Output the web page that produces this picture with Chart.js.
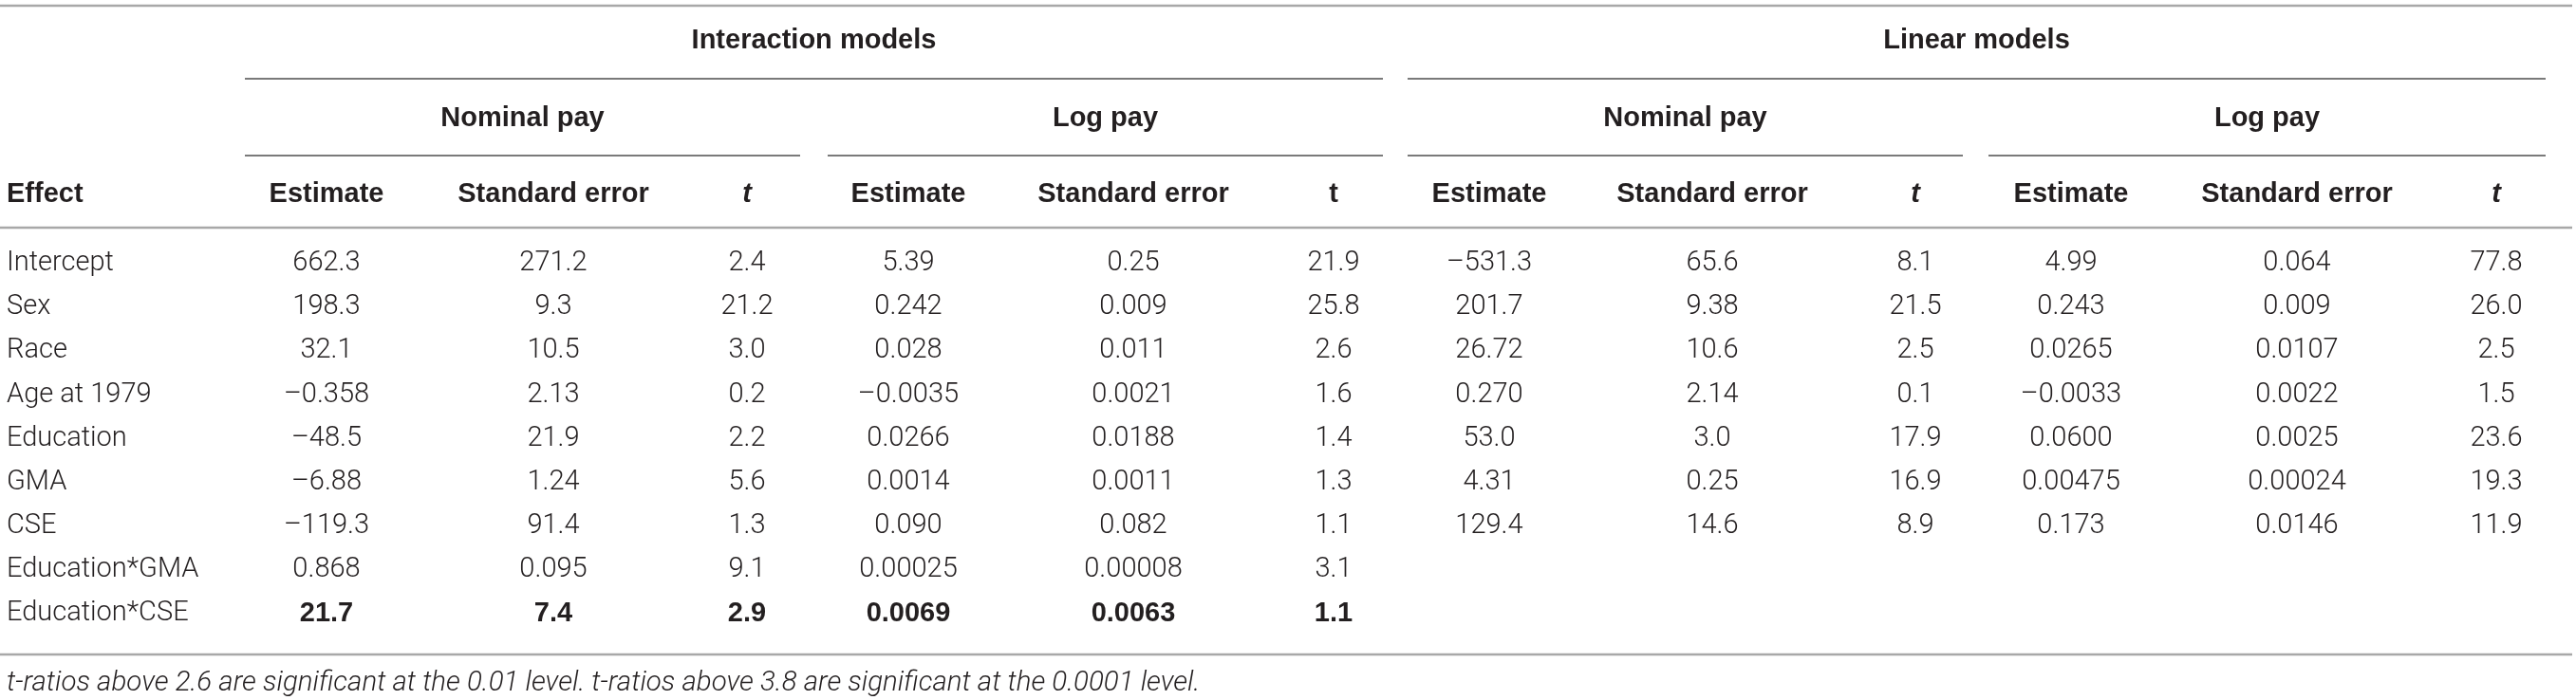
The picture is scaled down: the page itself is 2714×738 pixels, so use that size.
<!DOCTYPE html>
<html>
<head>
<meta charset="utf-8">
<script src="https://cdn.jsdelivr.net/npm/chart.js@4"></script>
<style>
  html, body { margin: 0; padding: 0; background: #fff; }
  #wrap { width: 2714px; height: 738px; }
</style>
</head>
<body>
<div id="wrap"><canvas id="table-chart" width="2714" height="738"></canvas></div>
<script>
// Valores da tabela
const effects = ['Intercept', 'Sex', 'Race', 'Age at 1979', 'Education', 'GMA', 'CSE', 'Education*GMA', 'Education*CSE'];

const intNomEst = ['662.3', '198.3', '32.1', '\u20130.358', '\u201348.5', '\u20136.88', '\u2013119.3', '0.868', '21.7'];
const intNomSE  = ['271.2', '9.3', '10.5', '2.13', '21.9', '1.24', '91.4', '0.095', '7.4'];
const intNomT   = ['2.4', '21.2', '3.0', '0.2', '2.2', '5.6', '1.3', '9.1', '2.9'];
const intLogEst = ['5.39', '0.242', '0.028', '\u20130.0035', '0.0266', '0.0014', '0.090', '0.00025', '0.0069'];
const intLogSE  = ['0.25', '0.009', '0.011', '0.0021', '0.0188', '0.0011', '0.082', '0.00008', '0.0063'];
const intLogT   = ['21.9', '25.8', '2.6', '1.6', '1.4', '1.3', '1.1', '3.1', '1.1'];

const linNomEst = ['\u2013531.3', '201.7', '26.72', '0.270', '53.0', '4.31', '129.4'];
const linNomSE  = ['65.6', '9.38', '10.6', '2.14', '3.0', '0.25', '14.6'];
const linNomT   = ['8.1', '21.5', '2.5', '0.1', '17.9', '16.9', '8.9'];
const linLogEst = ['4.99', '0.243', '0.0265', '\u20130.0033', '0.0600', '0.00475', '0.173'];
const linLogSE  = ['0.064', '0.009', '0.0107', '0.0022', '0.0025', '0.00024', '0.0146'];
const linLogT   = ['77.8', '26.0', '2.5', '1.5', '23.6', '19.3', '11.9'];

const groupTitles = ['Interaction models', 'Linear models'];
const subTitles = ['Nominal pay', 'Log pay', 'Nominal pay', 'Log pay'];
const colTitles = ['Estimate', 'Standard error', 't', 'Estimate', 'Standard error', 't',
                   'Estimate', 'Standard error', 't', 'Estimate', 'Standard error', 't'];
const italicT = [false, false, true, false, false, false, false, false, true, false, false, true];
const boldRow = 'Education*CSE';
const footnote = 't-ratios above 2.6 are significant at the 0.01 level. t-ratios above 3.8 are significant at the 0.0001 level.';

// Layout (pixels do canvas, usados via escalas)
const W = 2714, H = 738;
const colX = [344, 583, 787, 957, 1194, 1405, 1569, 1804, 2018, 2182, 2420, 2630];
const subSpan = [[258, 843], [872, 1457], [1483, 2068], [2095, 2682]];
const groupSpan = [[258, 1457], [1483, 2682]];
const rowY0 = 278, rowStep = 46.1;
const yGroup = 43, yGroupLine = 83, ySub = 125, ySubLine = 164, yHead = 205, yHeadLine = 240;
const yTop = 6, yFoot = 690, yNote = 721;

const INK = '#231f20';
const LIGHT = '300 29px Roboto, "Liberation Sans", sans-serif';
const BOLD = 'bold 29px "Liberation Sans", Arial, sans-serif';

// Montar datasets (um por coluna)
const columns = [intNomEst, intNomSE, intNomT, intLogEst, intLogSE, intLogT,
                 linNomEst, linNomSE, linNomT, linLogEst, linLogSE, linLogT];

const datasets = [];
datasets.push({
    label: 'Effect',
    data: effects.map((e, i) => ({ x: 7, y: rowY0 + i * rowStep })),
    texts: effects,
    align: 'left',
    fonts: effects.map(() => LIGHT)
});
columns.forEach((vals, c) => {
    datasets.push({
        label: colTitles[c],
        data: vals.map((v, i) => ({ x: colX[c], y: rowY0 + i * rowStep })),
        texts: vals,
        align: 'center',
        fonts: vals.map((v, i) => effects[i] === boldRow ? BOLD : LIGHT)
    });
});
datasets.forEach(d => { d.pointRadius = 0; d.showLine = false; });

const tablePlugin = {
    id: 'tablePlugin',
    beforeDatasetsDraw(chart) {
        const ctx = chart.ctx;
        const sx = chart.scales.x, sy = chart.scales.y;
        const rule = (x0, x1, y, color, lw) => {
            ctx.save();
            ctx.strokeStyle = color;
            ctx.lineWidth = lw;
            ctx.beginPath();
            ctx.moveTo(sx.getPixelForValue(x0), sy.getPixelForValue(y));
            ctx.lineTo(sx.getPixelForValue(x1), sy.getPixelForValue(y));
            ctx.stroke();
            ctx.restore();
        };
        rule(0, 2710, yTop, '#a8a8a8', 2.5);
        rule(0, 2710, yHeadLine, '#a8a8a8', 2.5);
        rule(0, 2710, yFoot, '#a8a8a8', 2.5);
        groupSpan.forEach(s => rule(s[0], s[1], yGroupLine, '#7a7a7a', 2));
        subSpan.forEach(s => rule(s[0], s[1], ySubLine, '#7a7a7a', 2));
    },
    afterDatasetsDraw(chart) {
        const ctx = chart.ctx;
        const sx = chart.scales.x, sy = chart.scales.y;
        ctx.save();
        ctx.fillStyle = INK;
        ctx.textBaseline = 'middle';
        const text = (s, x, y, font, align) => {
            ctx.font = font;
            ctx.textAlign = align || 'center';
            ctx.fillText(s, sx.getPixelForValue(x), sy.getPixelForValue(y));
        };
        // cabeçalhos
        groupTitles.forEach((t, i) => text(t, (groupSpan[i][0] + groupSpan[i][1]) / 2, yGroup, BOLD));
        subTitles.forEach((t, i) => text(t, (subSpan[i][0] + subSpan[i][1]) / 2, ySub, BOLD));
        text('Effect', 7, yHead, BOLD, 'left');
        colTitles.forEach((t, i) => {
            text(t, colX[i], yHead, italicT[i] ? 'italic bold 29px "Liberation Sans", Arial, sans-serif' : BOLD);
        });
        // células
        chart.data.datasets.forEach((ds, i) => {
            const meta = chart.getDatasetMeta(i);
            meta.data.forEach((pt, j) => {
                ctx.font = ds.fonts[j];
                ctx.textAlign = ds.align;
                ctx.fillText(ds.texts[j], pt.x, pt.y);
            });
        });
        text(footnote, 7, yNote, 'italic 300 29.5px Roboto, "Liberation Sans", sans-serif', 'left');
        ctx.restore();
    }
};

new Chart(document.getElementById('table-chart').getContext('2d'), {
    type: 'scatter',
    data: { datasets: datasets },
    options: {
        responsive: false,
        animation: false,
        devicePixelRatio: 1,
        layout: { padding: 0 },
        plugins: { legend: { display: false }, tooltip: { enabled: false } },
        events: [],
        scales: {
            x: { type: 'linear', min: 0, max: W, display: false },
            y: { type: 'linear', min: 0, max: H, reverse: true, display: false }
        }
    },
    plugins: [tablePlugin]
});
</script>
</body>
</html>
